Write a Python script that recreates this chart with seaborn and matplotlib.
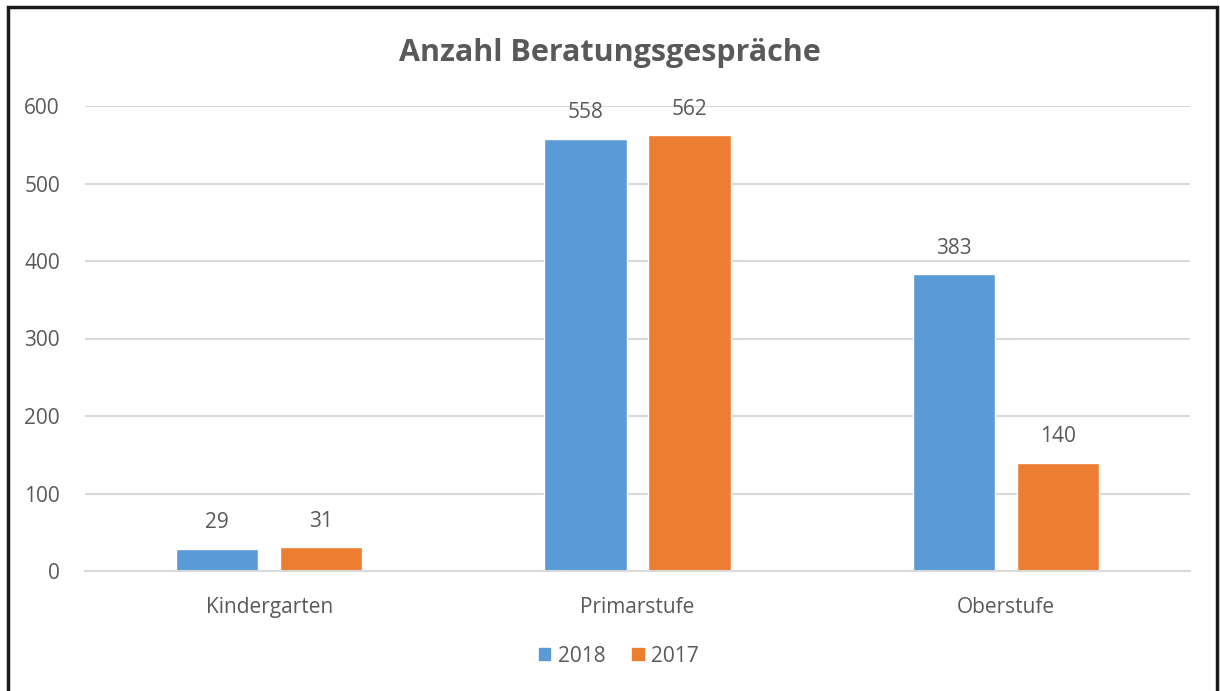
import matplotlib
matplotlib.use("Agg")
import matplotlib.pyplot as plt
import seaborn as sns
import pandas as pd
from matplotlib.patches import Rectangle, Patch

categories = ["Kindergarten", "Primarstufe", "Oberstufe"]
series_names = ["2018", "2017"]
values_2018 = [29, 558, 383]
values_2017 = [31, 562, 140]
y_ticks = [0, 100, 200, 300, 400, 500, 600]
title = "Anzahl Beratungsgespräche"

df = pd.DataFrame({
    "Kategorie": categories * 2,
    "Jahr": [series_names[0]] * 3 + [series_names[1]] * 3,
    "Wert": values_2018 + values_2017,
})

sns.set_theme(style="white")
plt.rcParams['font.family'] = ['Open Sans', 'DejaVu Sans']
txt = "#595959"

fig = plt.figure(figsize=(12.2, 6.91), dpi=100)
ax = fig.add_axes([85/1220, 1-571/691, (1190-85)/1220, (571-106)/691])

sns.barplot(data=df, x="Kategorie", y="Wert", hue="Jahr", order=categories,
            hue_order=series_names, palette=["#5B9BD5", "#ED7D31"],
            width=0.566, gap=0.21, ax=ax, legend=False, saturation=1)

ax.set_xlim(-0.5, 2.5)
ax.set_ylim(0, 600)
ax.set_yticks(y_ticks)
ax.yaxis.grid(True, color="#D9D9D9", linewidth=1.5)
ax.set_axisbelow(True)
for s in ["top", "right", "left"]:
    ax.spines[s].set_visible(False)
ax.spines["bottom"].set_color("#D9D9D9")
ax.spines["bottom"].set_linewidth(1.5)
ax.tick_params(axis="both", length=0, colors=txt, labelsize=15)
ax.tick_params(axis="y", pad=18)
ax.tick_params(axis="x", pad=19)
ax.set_xlabel("")
ax.set_ylabel("")

for cont in ax.containers:
    ax.bar_label(cont, labels=[str(int(v)) for v in cont.datavalues],
                 padding=11, color=txt, fontsize=15)

fig.text(0.5, 1-53/691, title, ha="center", va="center", fontsize=22,
         fontweight="bold", color=txt)

handles = [Patch(color="#5B9BD5", label=series_names[0]),
           Patch(color="#ED7D31", label=series_names[1])]
fig.legend(handles=handles, loc="center", bbox_to_anchor=(619/1220, 1-656/691),
           ncol=2, frameon=False, fontsize=15, labelcolor=txt,
           handlelength=0.55, handleheight=0.55, handletextpad=0.35, columnspacing=1.3)

fig.patches.append(Rectangle((8/1220, -0.05), (1217-8)/1220, 1.05 - 7/691,
                             transform=fig.transFigure, fill=False,
                             edgecolor="#1a1a1a", linewidth=2.5))

fig.savefig("out.png", dpi=100)
